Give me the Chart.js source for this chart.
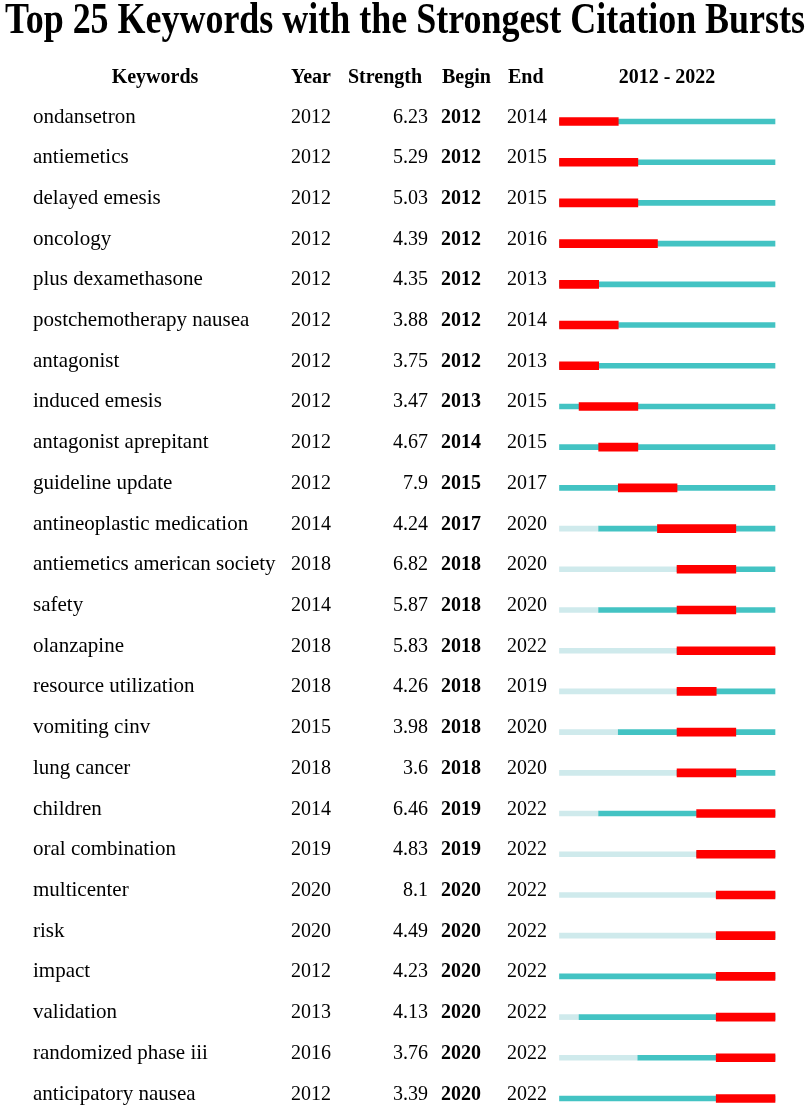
<!DOCTYPE html>
<html>
  <head>
    <script src="https://cdn.jsdelivr.net/npm/chart.js@4.4.0/dist/chart.umd.min.js"></script>
    <style>
      html, body { margin: 0; padding: 0; background: #fff; }
    </style>
  </head>

  <body>
    <div style="width: 809px; height: 1105px; position: relative">
      <canvas id="canvas"></canvas>
    </div>
    <script>
      const keywords = [
        'ondansetron', 'antiemetics', 'delayed emesis', 'oncology', 'plus dexamethasone',
        'postchemotherapy nausea', 'antagonist', 'induced emesis', 'antagonist aprepitant',
        'guideline update', 'antineoplastic medication', 'antiemetics american society',
        'safety', 'olanzapine', 'resource utilization', 'vomiting cinv', 'lung cancer',
        'children', 'oral combination', 'multicenter', 'risk', 'impact', 'validation',
        'randomized phase iii', 'anticipatory nausea',
      ];
      const years = [2012, 2012, 2012, 2012, 2012, 2012, 2012, 2012, 2012, 2012, 2014, 2018, 2014,
        2018, 2018, 2015, 2018, 2014, 2019, 2020, 2020, 2012, 2013, 2016, 2012];
      const strengths = [6.23, 5.29, 5.03, 4.39, 4.35, 3.88, 3.75, 3.47, 4.67, 7.9, 4.24, 6.82, 5.87,
        5.83, 4.26, 3.98, 3.6, 6.46, 4.83, 8.1, 4.49, 4.23, 4.13, 3.76, 3.39];
      const begins = [2012, 2012, 2012, 2012, 2012, 2012, 2012, 2013, 2014, 2015, 2017, 2018, 2018,
        2018, 2018, 2018, 2018, 2019, 2019, 2020, 2020, 2020, 2020, 2020, 2020];
      const ends = [2014, 2015, 2015, 2016, 2013, 2014, 2013, 2015, 2015, 2017, 2020, 2020, 2020,
        2022, 2019, 2020, 2020, 2022, 2022, 2022, 2022, 2022, 2022, 2022, 2022];
      const firstYear = 2012;
      const lastYear = 2022;

      const serif = '"Liberation Serif", "Times New Roman", serif';

      // table text drawn next to the bars, using the y scale for row positions
      const tableText = {
        id: 'tableText',
        afterDraw(chart) {
          const ctx = chart.ctx;
          const y = chart.scales.y;
          ctx.save();
          ctx.fillStyle = '#000';
          ctx.textBaseline = 'alphabetic';

          // title, squeezed horizontally to fit
          ctx.font = 'bold 44px ' + serif;
          const title = 'Top 25 Keywords with the Strongest Citation Bursts';
          const w = ctx.measureText(title).width;
          ctx.save();
          ctx.translate(405, 33);
          ctx.scale(800 / w, 1);
          ctx.textAlign = 'center';
          ctx.fillText(title, 0, 0);
          ctx.restore();

          // header
          ctx.font = 'bold 20px ' + serif;
          ctx.textAlign = 'center';
          ctx.fillText('Keywords', 155, 83);
          ctx.fillText(firstYear + ' - ' + lastYear, 667, 83);
          ctx.textAlign = 'left';
          ctx.fillText('Year', 291, 83);
          ctx.fillText('Strength', 348, 83);
          ctx.fillText('Begin', 442, 83);
          ctx.fillText('End', 508, 83);

          keywords.forEach((k, i) => {
            const base = y.getPixelForValue(i) + 1;
            ctx.textAlign = 'left';
            ctx.font = '21px ' + serif;
            ctx.fillText(k, 33, base);
            ctx.font = '20px ' + serif;
            ctx.fillText(String(years[i]), 291, base);
            ctx.fillText(String(ends[i]), 507, base);
            ctx.textAlign = 'right';
            ctx.fillText(String(strengths[i]), 428, base);
            ctx.font = 'bold 20px ' + serif;
            ctx.textAlign = 'left';
            ctx.fillText(String(begins[i]), 441, base);
          });
          ctx.restore();
        },
      };

      new Chart(document.getElementById('canvas').getContext('2d'), {
        type: 'bar',
        data: {
          labels: keywords,
          datasets: [
            {
              label: 'burst',
              data: begins.map((b, i) => [b, ends[i] + 1]),
              backgroundColor: '#ff0000',
              barThickness: 8,
              order: 0,
              clip: false,
            },
            {
              label: 'present',
              data: years.map((yr) => [yr, lastYear + 1]),
              backgroundColor: '#43c3c3',
              barThickness: 5,
              order: 1,
              clip: false,
            },
            {
              label: 'absent',
              data: years.map((yr) => (yr > firstYear ? [firstYear, yr] : null)),
              backgroundColor: '#cfeaec',
              barThickness: 5,
              order: 2,
              clip: false,
            },
          ],
        },
        options: {
          indexAxis: 'y',
          responsive: true,
          maintainAspectRatio: false,
          animation: false,
          grouped: false,
          layout: {
            padding: { left: 559.5, right: 34, top: 121.5, bottom: 6.5 },
          },
          scales: {
            x: { type: 'linear', min: firstYear, max: lastYear + 1, display: false },
            y: { offset: false, display: false, grid: { offset: false } },
          },
          plugins: {
            legend: { display: false },
            tooltip: { enabled: false },
          },
        },
        plugins: [tableText],
      });
    </script>
  </body>
</html>
